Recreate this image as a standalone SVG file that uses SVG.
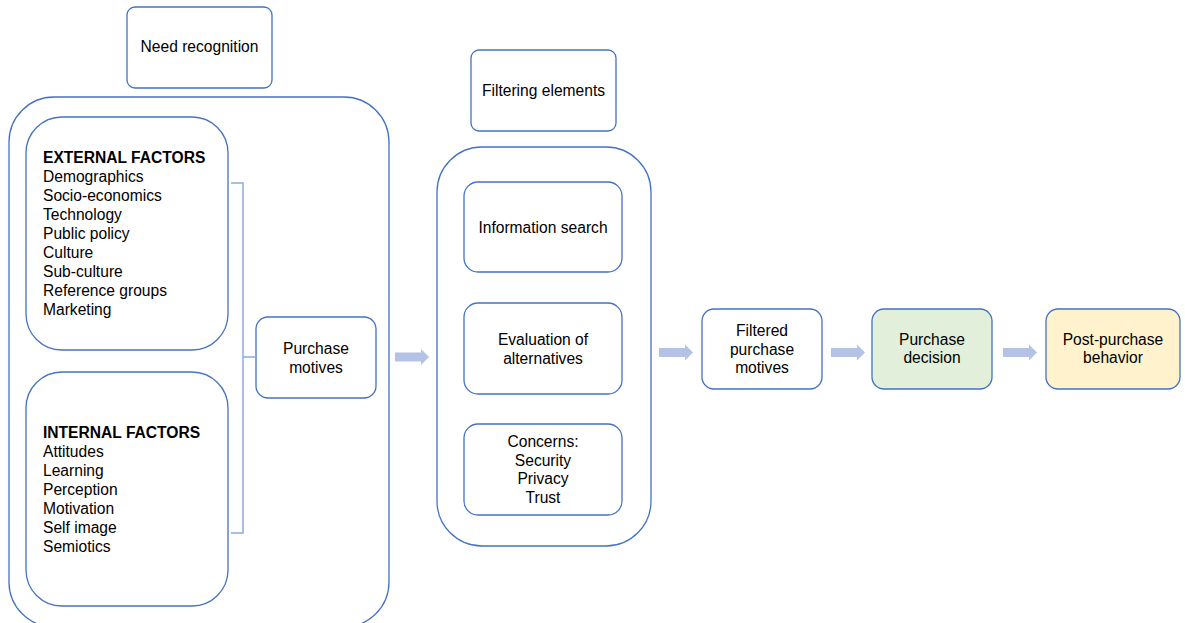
<svg xmlns="http://www.w3.org/2000/svg" width="1185" height="623" viewBox="0 0 1185 623">
  <defs>
    <style>
      .box { fill: #ffffff; stroke: #4472c4; stroke-width: 1.3; }
      .lbl { font-family: "Liberation Sans", Arial, sans-serif; font-size: 15.6px; fill: #000000; }
      .mid { text-anchor: middle; }
      .b { font-weight: bold; }
      .arrow { fill: #b4c2e6; }
      .brace { fill: none; stroke: #8faadc; stroke-width: 1.5; }
    </style>
    <!-- block arrow pointing right, origin at left end of shaft centre line -->
    <path id="blockArrow" class="arrow" d="M0,-4.5 H26 V-8 L34,0 L26,8 V4.5 H0 Z"/>
  </defs>
  <rect width="1185" height="623" fill="#ffffff"/>

  <g id="need-recognition">
    <rect class="box" x="127" y="7" width="145" height="81" rx="8"/>
    <text class="lbl mid" x="199.5" y="52">Need recognition</text>
  </g>

  <g id="influences-container">
    <rect class="box" x="9" y="97" width="380" height="530" rx="45"/>
  </g>

  <g id="external-factors">
    <rect class="box" x="26" y="117" width="202" height="233" rx="36"/>
    <text class="lbl" x="43" y="163"><tspan class="b">EXTERNAL FACTORS</tspan><tspan x="43" dy="19">Demographics</tspan><tspan x="43" dy="19">Socio-economics</tspan><tspan x="43" dy="19">Technology</tspan><tspan x="43" dy="19">Public policy</tspan><tspan x="43" dy="19">Culture</tspan><tspan x="43" dy="19">Sub-culture</tspan><tspan x="43" dy="19">Reference groups</tspan><tspan x="43" dy="19">Marketing</tspan></text>
  </g>

  <g id="internal-factors">
    <rect class="box" x="26" y="372" width="202" height="234" rx="36"/>
    <text class="lbl" x="43" y="438"><tspan class="b">INTERNAL FACTORS</tspan><tspan x="43" dy="19">Attitudes</tspan><tspan x="43" dy="19">Learning</tspan><tspan x="43" dy="19">Perception</tspan><tspan x="43" dy="19">Motivation</tspan><tspan x="43" dy="19">Self image</tspan><tspan x="43" dy="19">Semiotics</tspan></text>
  </g>

  <g id="purchase-motives">
    <rect class="box" x="256" y="317" width="120" height="81" rx="12"/>
    <text class="lbl mid" x="316" y="354">Purchase<tspan x="316" dy="19">motives</tspan></text>
  </g>

  <g id="filtering-elements">
    <rect class="box" x="471" y="50" width="145" height="81" rx="8"/>
    <text class="lbl mid" x="543.5" y="96">Filtering elements</text>
  </g>

  <g id="filtering-container">
    <rect class="box" x="437" y="147" width="214" height="399" rx="45"/>
  </g>

  <g id="information-search">
    <rect class="box" x="464" y="182" width="158" height="90" rx="14"/>
    <text class="lbl mid" x="543" y="233">Information search</text>
  </g>

  <g id="evaluation-of-alternatives">
    <rect class="box" x="464" y="303" width="158" height="91" rx="14"/>
    <text class="lbl mid" x="543" y="345">Evaluation of<tspan x="543" dy="18.5">alternatives</tspan></text>
  </g>

  <g id="concerns">
    <rect class="box" x="464" y="424" width="158" height="91" rx="14"/>
    <text class="lbl mid" x="543" y="447">Concerns:<tspan x="543" dy="18.7">Security</tspan><tspan x="543" dy="18.7">Privacy</tspan><tspan x="543" dy="18.7">Trust</tspan></text>
  </g>

  <g id="filtered-purchase-motives">
    <rect class="box" x="702" y="309" width="120" height="80" rx="12"/>
    <text class="lbl mid" x="762" y="336">Filtered<tspan x="762" dy="18.5">purchase</tspan><tspan x="762" dy="18.5">motives</tspan></text>
  </g>

  <g id="purchase-decision">
    <rect class="box" x="872" y="309" width="120" height="80" rx="12" style="fill:#e2efda"/>
    <text class="lbl mid" x="932" y="345">Purchase<tspan x="932" dy="18">decision</tspan></text>
  </g>

  <g id="post-purchase-behavior">
    <rect class="box" x="1046" y="309" width="134" height="80" rx="12" style="fill:#fff2cc"/>
    <text class="lbl mid" x="1113" y="345">Post-purchase<tspan x="1113" dy="18">behavior</tspan></text>
  </g>

  <g id="connectors">
    <!-- brace joining both factor groups into the purchase motives -->
    <path class="brace" d="M231,183 H243 V357 H256 M243,357 V533 H231"/>
    <use href="#blockArrow" x="395" y="357"/>
    <use href="#blockArrow" x="659" y="352.5"/>
    <use href="#blockArrow" x="831" y="352.5"/>
    <use href="#blockArrow" x="1003" y="352.5"/>
  </g>
</svg>
